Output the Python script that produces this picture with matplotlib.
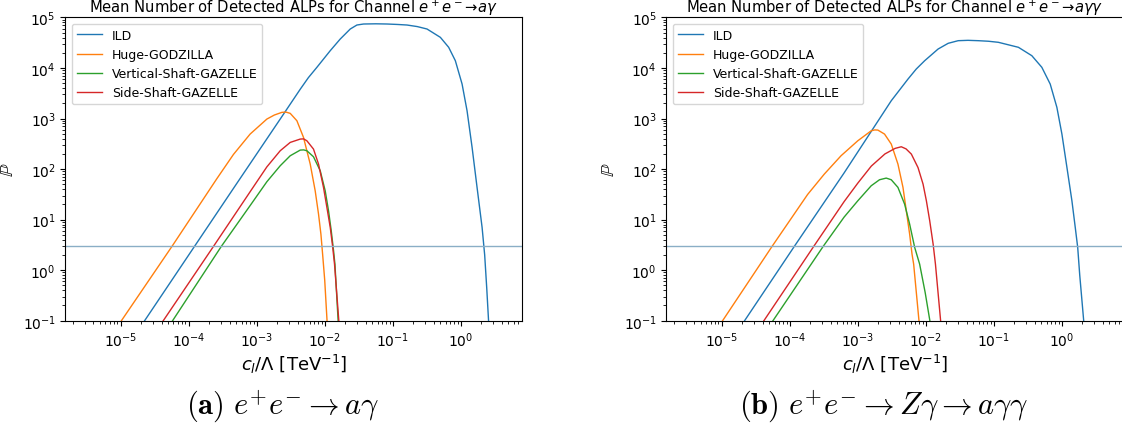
import numpy as np
import matplotlib
matplotlib.use("Agg")
import matplotlib.pyplot as plt
from matplotlib.font_manager import FontProperties

# Curves are read as (log10 x, log10 P) pairs.
# Panel (a): e+e- -> a gamma
ild_a_x = [-4.646, -3.91, -3.3, -2.629, -2.36, -2.24, -2.115, -1.919, -1.772, -1.625,
           -1.527, -1.429, -1.25, -1.085, -0.93, -0.791, -0.64, -0.497, -0.301, -0.179,
           -0.081, 0.018, 0.091, 0.165, 0.238, 0.312, 0.35, 0.38, 0.407]
ild_a_y = [-1.0, 0.477, 1.70, 3.04, 3.58, 3.81, 4.014, 4.343, 4.574, 4.772,
           4.851, 4.871, 4.875, 4.871, 4.862, 4.851, 4.82, 4.772, 4.607, 4.41,
           4.145, 3.683, 3.155, 2.43, 1.638, 0.846, 0.3, -0.35, -1.0]

godz_a_x = [-4.987, -4.241, -3.585, -3.341, -3.096, -2.85, -2.74, -2.629, -2.57, -2.507,
            -2.409, -2.312, -2.213, -2.140, -2.091, -2.056, -2.03, -2.0, -1.966]
godz_a_y = [-1.0, 0.477, 1.81, 2.29, 2.693, 2.99, 3.07, 3.123, 3.128, 3.103,
            2.957, 2.628, 2.099, 1.57, 1.109, 0.713, 0.3, -0.2, -1.0]

vert_a_x = [-4.235, -3.516, -3.096, -2.85, -2.654, -2.507, -2.36, -2.31, -2.262, -2.165,
            -2.066, -1.993, -1.944, -1.904, -1.87, -1.85, -1.803]
vert_a_y = [-1.0, 0.477, 1.278, 1.75, 2.066, 2.264, 2.376, 2.38, 2.363, 2.244,
            1.967, 1.57, 1.174, 0.778, 0.382, 0.119, -1.0]

side_a_x = [-4.372, -3.631, -3.096, -2.85, -2.654, -2.507, -2.36, -2.31, -2.262, -2.165,
            -2.091, -2.018, -1.968, -1.919, -1.885, -1.856, -1.793]
side_a_y = [-1.0, 0.477, 1.552, 2.044, 2.363, 2.528, 2.594, 2.598, 2.56, 2.396,
            2.099, 1.638, 1.241, 0.846, 0.481, 0.119, -1.0]

# Panel (b): e+e- -> Z gamma -> a gamma gamma
ild_b_x = [-4.662, -3.928, -3.2, -2.507, -2.261, -2.14, -2.016, -1.819, -1.671, -1.524,
           -1.38, -1.229, -1.08, -0.934, -0.639, -0.442, -0.295, -0.172, -0.074, 0.0,
           0.074, 0.147, 0.196, 0.232, 0.262, 0.32]
ild_b_y = [-1.0, 0.477, 1.924, 3.353, 3.782, 3.98, 4.145, 4.376, 4.489, 4.541,
           4.548, 4.541, 4.53, 4.509, 4.41, 4.244, 4.014, 3.683, 3.222, 2.693,
           2.03, 1.372, 0.846, 0.45, -0.1, -1.0]

godz_b_x = [-4.985, -4.255, -3.736, -3.491, -3.245, -2.999, -2.802, -2.75, -2.704, -2.606,
            -2.507, -2.409, -2.335, -2.286, -2.237, -2.202, -2.178, -2.10]
godz_b_y = [-1.0, 0.477, 1.498, 1.901, 2.264, 2.56, 2.758, 2.775, 2.772, 2.693,
            2.495, 2.099, 1.638, 1.174, 0.713, 0.317, 0.119, -1.0]

vert_b_x = [-4.245, -3.504, -3.2, -2.999, -2.802, -2.68, -2.581, -2.507, -2.409, -2.311,
            -2.237, -2.163, -2.09, -2.009, -1.94]
vert_b_y = [-1.0, 0.477, 1.05, 1.372, 1.67, 1.789, 1.822, 1.789, 1.638, 1.307,
            0.911, 0.45, 0.119, -0.442, -1.0]

side_b_x = [-4.378, -3.643, -3.2, -3.0, -2.8, -2.6, -2.45, -2.36, -2.29, -2.212,
            -2.114, -2.04, -1.991, -1.942, -1.892, -1.858, -1.782]
side_b_y = [-1.0, 0.477, 1.356, 1.72, 2.06, 2.30, 2.41, 2.442, 2.40, 2.297,
            2.03, 1.703, 1.372, 0.976, 0.515, 0.119, -1.0]

labels = ["ILD", "Huge-GODZILLA", "Vertical-Shaft-GAZELLE", "Side-Shaft-GAZELLE"]
colors = ["C0", "C1", "C2", "C3"]
threshold = 3.0

panels = [
    {"curves": [(ild_a_x, ild_a_y), (godz_a_x, godz_a_y), (vert_a_x, vert_a_y), (side_a_x, side_a_y)],
     "channel": r"$e^+e^-$→$a\gamma$",
     "caption": r"$\mathbf{(a)}\ e^{+}e^{-}\rightarrow a\gamma$",
     "rect": [0.0583, 0.2466, 0.4069, 0.7101]},
    {"curves": [(ild_b_x, ild_b_y), (godz_b_x, godz_b_y), (vert_b_x, vert_b_y), (side_b_x, side_b_y)],
     "channel": r"$e^+e^-$→$a\gamma\gamma$",
     "caption": r"$\mathbf{(b)}\ e^{+}e^{-}\rightarrow Z\gamma\rightarrow a\gamma\gamma$",
     "rect": [0.594, 0.2466, 0.4069, 0.7101]},
]

fig = plt.figure(figsize=(11.22, 4.27), dpi=100)
cap_font = FontProperties(family="serif", size=22, math_fontfamily="cm")

for p in panels:
    ax = fig.add_axes(p["rect"])
    for (lx, ly), lab, col in zip(p["curves"], labels, colors):
        ax.plot(10 ** np.array(lx), 10 ** np.array(ly), color=col, lw=1.0, label=lab)
    ax.axhline(threshold, color="#8aaec6", lw=1.0)
    ax.set_xscale("log")
    ax.set_yscale("log")
    ax.set_xlim(1.55e-6, 7.9)
    ax.set_ylim(1e-1, 1e5)
    ax.tick_params(labelsize=10)
    ax.set_title("Mean Number of Detected ALPs for Channel " + p["channel"], fontsize=10.6, pad=2)
    ax.set_xlabel(r"$c_l/\Lambda$ [TeV$^{-1}$]", fontsize=13, labelpad=2)
    ax.set_ylabel(r"$\mathbb{P}$", fontsize=13)
    ax.legend(loc="upper left", fontsize=9)
    r = p["rect"]
    fig.text(r[0] + r[2] / 2 - 0.01, 0.047, p["caption"], ha="center", va="center",
             fontproperties=cap_font)

fig.savefig("out.png", dpi=100)
